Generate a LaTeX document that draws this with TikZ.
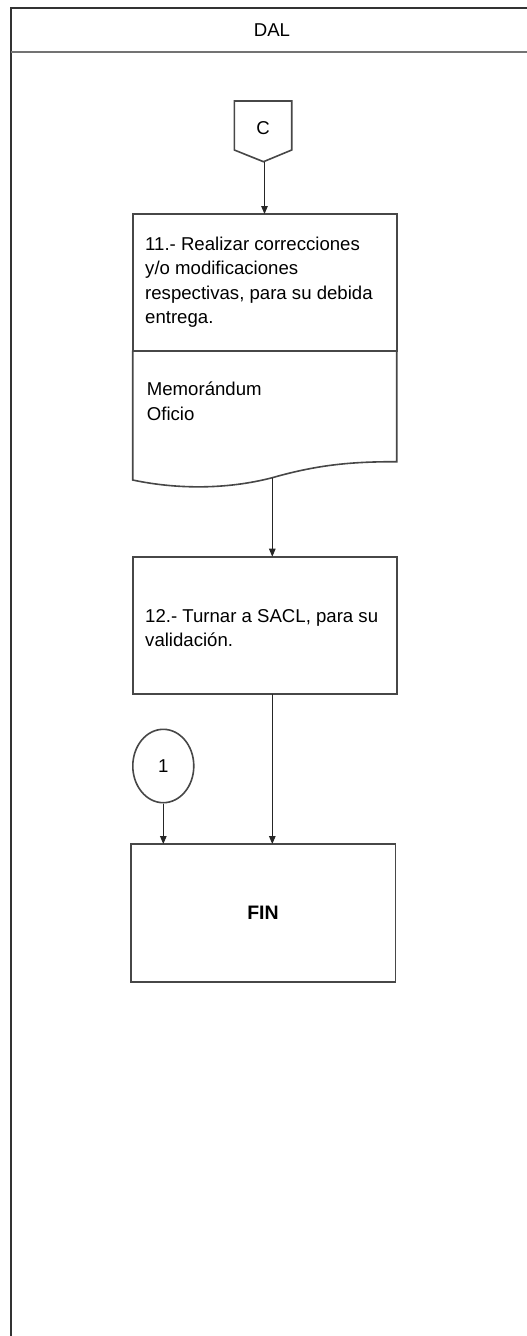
\documentclass[tikz,border=0pt]{standalone}
\usepackage{fontspec}
\setmainfont{Liberation Sans}
\usetikzlibrary{arrows.meta,shapes.geometric}
\tikzset{
  boxline/.style={draw=black!72, line width=1.6pt},
  procbox/.style={boxline, rectangle, inner sep=0pt, outer sep=0pt},
  txt/.style={inner sep=0pt, align=left, font=\fontsize{18.6}{24.5}\selectfont},
  conn/.style={draw=black!85, line width=1.1pt, -{Triangle[length=8pt,width=6.5pt]}},
  frameline/.style={draw=black!80, line width=2pt},
}
\begin{document}
\begin{tikzpicture}[x=1pt,y=-1pt]
\useasboundingbox (0,0) rectangle (527,1336);
% lane frame
\draw[frameline] (11,1336) -- (11,8) -- (527,8);
\draw[draw=black!55, line width=1.8pt] (11,52) -- (527,52);
\node[txt, anchor=base] (dal) at (272,36.7) {DAL};

% off-page connector C
\draw[boxline] (234.3,101) -- (291.7,101) -- (291.7,150) -- (263.5,161.7) -- (234.3,150) -- cycle;
\node[txt] (c) at (263,128) {C};
\coordinate (cbot) at (264.5,161.7);

% step 11 (process + document)
\node[procbox, minimum width=264pt, minimum height=136.7pt] (b11) at (264.7,282.35) {};
\node[txt, anchor=base west] (t11) at (145,323.5) {11.- Realizar correcciones\\y/o modificaciones\\respectivas, para su debida\\entrega.};
\draw[boxline] (b11.south west) -- (132.7,480)
  .. controls (175,489) and (225,490) .. (272.3,477.7)
  .. controls (320,464) and (355,461.7) .. (396.7,461.7) -- (b11.south east);
\coordinate (docbot) at (272.3,477.7);
\node[txt, anchor=base west] (memo) at (146.7,420) {Memorándum\\Oficio};

% step 12
\node[procbox, minimum width=264pt, minimum height=137.3pt] (b12) at (264.7,625.35) {};
\node[txt, anchor=base west] (t12) at (145,646.5) {12.- Turnar a SACL, para su\\validación.};

% connector 1
\node[boxline, ellipse, minimum width=61pt, minimum height=73.4pt, inner sep=0pt] (one) at (163.3,766) {};
\node[txt] (onet) at (163.3,766) {1};

% FIN
\node[procbox, minimum width=264.3pt, minimum height=137.7pt] (fin) at (263.2,912.9) {};
\node[txt, font=\fontsize{19.5}{24}\selectfont\bfseries] (fint) at (263,913) {FIN};

% connectors
\draw[conn] (cbot) -- (cbot |- b11.north);
\draw[conn] (docbot) -- (docbot |- b12.north);
\coordinate (b12out) at (272.3,694);
\draw[conn] (b12out) -- (b12out |- fin.north);
\draw[conn] (one.south) -- (one.south |- fin.north);
\end{tikzpicture}
\end{document}
